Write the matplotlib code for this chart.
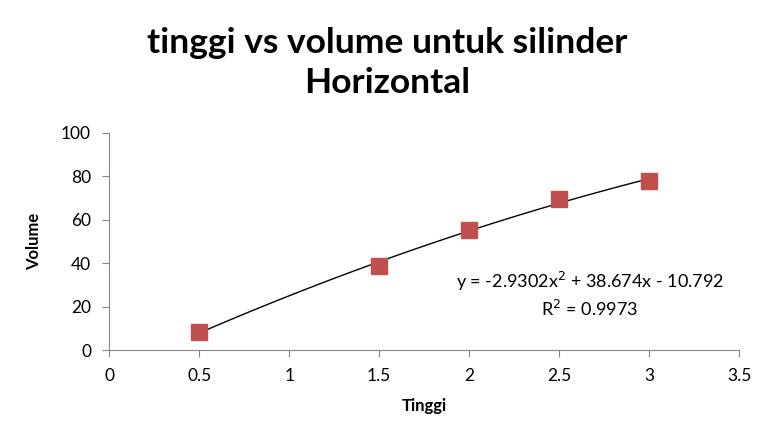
import numpy as np
import matplotlib.pyplot as plt

plt.rcParams["font.family"] = ["Lato", "DejaVu Sans"]

# data
tinggi = [0.5, 1.5, 2.0, 2.5, 3.0]
volume = [8.2, 38.8, 55.4, 69.5, 77.8]

# trendline coefficients (from the equation shown on the chart)
poly_coef = [-2.9302, 38.674, -10.792]
r_squared = 0.9973

x_ticks = [0, 0.5, 1, 1.5, 2, 2.5, 3, 3.5]
y_ticks = [0, 20, 40, 60, 80, 100]

fig = plt.figure(figsize=(7.74, 4.47), dpi=100)
ax = fig.add_axes([0.141, 0.217, 0.814, 0.486])

xs = np.linspace(min(tinggi), max(tinggi), 100)
ax.plot(xs, np.polyval(poly_coef, xs), color="black", lw=1, zorder=2)
ax.plot(tinggi, volume, ls="none", marker="s", ms=12, color="#C0504D", zorder=3)

ax.set_xlim(0, 3.5)
ax.set_ylim(0, 100)
ax.set_xticks(x_ticks)
ax.set_xticklabels([f"{t:g}" for t in x_ticks])
ax.set_yticks(y_ticks)

for s in ["top", "right"]:
    ax.spines[s].set_visible(False)
for s in ["left", "bottom"]:
    ax.spines[s].set_color("#868686")
ax.tick_params(colors="#868686", labelcolor="black", labelsize=12.5, length=5, pad=8)

ax.set_xlabel("Tinggi", fontsize=12, fontweight="bold", labelpad=10)
ax.set_ylabel("Volume", fontsize=12, fontweight="bold", labelpad=14)

eq = (f"y = {poly_coef[0]}x$^2$ + {poly_coef[1]}x - {abs(poly_coef[2])}\n"
      f"R$^2$ = {r_squared}")
ax.text(2.67, 25.5, eq, ha="center", va="center", fontsize=13, linespacing=1.35)

fig.suptitle("tinggi vs volume untuk silinder\nHorizontal", fontsize=25.5,
             fontweight="bold", y=0.94, linespacing=1.3)

fig.savefig("out.png", dpi=100)
